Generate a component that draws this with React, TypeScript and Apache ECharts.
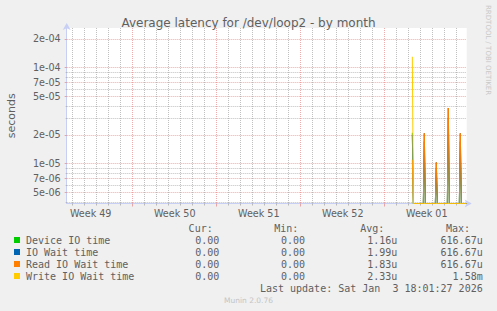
import React, { useEffect, useRef } from 'react';
import * as echarts from 'echarts';

// ---- data ----
const seriesNames = ['Device IO time', 'IO Wait time', 'Read IO Wait time', 'Write IO Wait time'];
const seriesColors = ['#00cc00', '#0066b3', '#ff8000', '#ffcc00'];

// x axis unit: days since Monday 1 Dec 2025 00:00; samples are 2-hour averages
const sampleStartDay = 30.3;
const sampleStepDay = 1 / 12;

const deviceIoTime = [
  2.1e-5, 0, 0, 0, 0, 0, 0, 0, 0, 0, 0, 0,
  1.7e-5, 0, 0, 0, 0, 0, 0, 0, 0, 0, 0, 0,
  0.9e-5, 0, 0, 0, 0, 0, 0, 0, 0, 0, 0, 0,
  3.0e-5, 0, 0, 0, 0, 0, 0, 0, 0, 0, 0, 0,
  1.7e-5, 0, 0, 0, 0, 0, 0,
];
const ioWaitTime = [
  2.0e-5, 0, 0, 0, 0, 0, 0, 0, 0, 0, 0, 0,
  2.07e-5, 0, 0, 0, 0, 0, 0, 0, 0, 0, 0, 0,
  1.03e-5, 0, 0, 0, 0, 0, 0, 0, 0, 0, 0, 0,
  3.8e-5, 0, 0, 0, 0, 0, 0, 0, 0, 0, 0, 0,
  2.07e-5, 0, 0, 0, 0, 0, 0,
];
const readIoWaitTime = [
  1.1e-5, 0, 0, 0, 0, 0, 0, 0, 0, 0, 0, 0,
  2.07e-5, 0, 0, 0, 0, 0, 0, 0, 0, 0, 0, 0,
  1.03e-5, 0, 0, 0, 0, 0, 0, 0, 0, 0, 0, 0,
  3.8e-5, 0, 0, 0, 0, 0, 0, 0, 0, 0, 0, 0,
  2.07e-5, 0, 0, 0, 0, 0, 0,
];
const writeIoWaitTime = [
  1.3e-4, 0, 0, 0, 0, 0, 0, 0, 0, 0, 0, 0,
  0, 0, 0, 0, 0, 0, 0, 0, 0, 0, 0, 0,
  0, 0, 0, 0, 0, 0, 0, 0, 0, 0, 0, 0,
  0, 0, 0, 0, 0, 0, 0, 0, 0, 0, 0, 0,
  0, 0, 0, 0, 0, 0, 0,
];
const seriesValues = [deviceIoTime, ioWaitTime, readIoWaitTime, writeIoWaitTime];

const curValues = ['0.00', '0.00', '0.00', '0.00'];
const minValues = ['0.00', '0.00', '0.00', '0.00'];
const avgValues = ['1.16u', '1.99u', '1.83u', '2.33u'];
const maxValues = ['616.67u', '616.67u', '616.67u', '1.58m'];

const weekLabelDays = [3.5, 10.5, 17.5, 24.5, 31.5];
const weekLabels = ['Week 49', 'Week 50', 'Week 51', 'Week 52', 'Week 01'];
const weekStartDays = [7, 14, 21, 28];
const dayGridDays = [2, 3, 4, 5, 6, 8, 9, 10, 11, 12, 13, 15, 16, 17, 18, 19, 20, 22, 23, 24, 25, 26, 27, 29, 30, 31, 32, 33, 34];

const yMajorTicks = [5e-6, 7e-6, 1e-5, 2e-5, 5e-5, 7e-5, 1e-4, 2e-4];
const yMinorTicks = [4e-6, 6e-6, 8e-6, 9e-6, 3e-5, 4e-5, 6e-5, 8e-5, 9e-5];

const xMin = 1.5;
const xMax = 34.83;
const yMin = 3.85e-6;
const yMax = 2.59e-4;

const titleText = 'Average latency for /dev/loop2 - by month';
const lastUpdate = 'Last update: Sat Jan  3 18:01:27 2026';
const footer = 'Munin 2.0.76';
const sideText = 'RRDTOOL / TOBI OETIKER';

// ---- styles ----
const FONT = 'DejaVu Sans';
const MONO = 'DejaVu Sans Mono';
const TEXT = '#606060';
const AXIS = '#c8cff4';
const MINOR = 'rgba(140,140,140,0.55)';
const MAJOR = 'rgba(225,90,90,0.5)';

function fmtExp(v: number): string {
  const e = Math.floor(Math.log10(v) + 1e-9);
  const m = Math.round(v / Math.pow(10, e));
  return `${m}e${e < 0 ? '-' : '+'}${String(Math.abs(e)).padStart(2, '0')}`;
}

export default function App() {
  const ref = useRef<HTMLDivElement>(null);

  useEffect(() => {
    document.body.style.margin = '0';
    document.body.style.background = '#f0f0f0';
    if (!ref.current) return;
    const chart = echarts.init(ref.current, null, { renderer: 'svg' });

    const series = seriesNames.map((name, s) => ({
      type: 'line',
      name,
      xAxisIndex: 0,
      yAxisIndex: 0,
      data: seriesValues[s].map((v, i) => [sampleStartDay + i * sampleStepDay, Math.max(v, yMin)]),
      showSymbol: false,
      symbol: 'none',
      clip: false,
      lineStyle: { width: 1, color: seriesColors[s] },
      itemStyle: { color: seriesColors[s] },
      z: 3 + s,
    }));

    const rowY = [240, 252, 264, 276];
    const graphic: any[] = [];
    const txt = (text: string, x: number, y: number, align: string, font = `10px "${MONO}"`, fill = TEXT) => ({
      type: 'text',
      x,
      y,
      silent: true,
      style: { text, fill, font, textAlign: align, textVerticalAlign: 'middle' },
    });
    graphic.push(txt('Cur:', 212.7, 228, 'right'));
    graphic.push(txt('Min:', 298.3, 228, 'right'));
    graphic.push(txt('Avg:', 384.3, 228, 'right'));
    graphic.push(txt('Max:', 470, 228, 'right'));
    seriesNames.forEach((name, i) => {
      graphic.push({
        type: 'rect',
        silent: true,
        shape: { x: 14, y: rowY[i] - 3, width: 6, height: 6 },
        style: { fill: seriesColors[i] },
      });
      graphic.push(txt(name, 26, rowY[i], 'left'));
      graphic.push(txt(curValues[i], 219.3, rowY[i], 'right'));
      graphic.push(txt(minValues[i], 305, rowY[i], 'right'));
      graphic.push(txt(avgValues[i], 397.3, rowY[i], 'right'));
      graphic.push(txt(maxValues[i], 482.7, rowY[i], 'right'));
    });
    graphic.push(txt(lastUpdate, 482.7, 288, 'right'));
    graphic.push(txt(footer, 248.5, 300, 'center', `7.5px "${FONT}"`, '#c4c4c4'));
    graphic.push({
      type: 'text',
      x: 487.5,
      y: 5,
      rotation: -Math.PI / 2,
      silent: true,
      style: { text: sideText, fill: '#c8c8c8', font: `7px "${FONT}"`, textAlign: 'left', textVerticalAlign: 'middle' },
    });

    const option: any = {
      animation: false,
      backgroundColor: '#f0f0f0',
      title: {
        text: titleText,
        left: 'center',
        top: 12,
        textStyle: { color: TEXT, fontSize: 12, fontWeight: 'normal', fontFamily: FONT },
      },
      grid: {
        left: 66.7,
        top: 28,
        width: 400,
        height: 175.5,
        show: true,
        backgroundColor: '#ffffff',
        borderWidth: 0,
        containLabel: false,
        outerBoundsMode: 'none',
      },
      xAxis: [
        {
          type: 'value',
          min: xMin,
          max: xMax,
          position: 'bottom',
          axisLine: {
            show: true,
            lineStyle: { color: AXIS, width: 1 },
            symbol: ['none', 'arrow'],
            symbolSize: [6, 7],
            symbolOffset: [0, 5],
          },
          axisTick: { show: true, customValues: dayGridDays, length: 2, lineStyle: { color: MINOR } },
          axisLabel: {
            show: true,
            customValues: weekLabelDays,
            formatter: (v: number) => {
              const i = weekLabelDays.findIndex((d) => Math.abs(d - v) < 1e-6);
              return i >= 0 ? weekLabels[i] : '';
            },
            color: TEXT,
            fontSize: 9.6,
            fontFamily: FONT,
            margin: 5,
          },
          splitLine: { show: true, lineStyle: { color: MINOR, type: [1, 1], width: 1 } },
        },
        {
          type: 'value',
          min: xMin,
          max: xMax,
          position: 'bottom',
          axisLine: { show: false },
          axisTick: { show: true, customValues: weekStartDays, length: 3, lineStyle: { color: MAJOR } },
          axisLabel: { show: false },
          splitLine: { show: true, lineStyle: { color: MAJOR, type: [1, 1], width: 1 } },
        },
      ],
      yAxis: [
        {
          type: 'log',
          logBase: 10,
          min: yMin,
          max: yMax,
          position: 'left',
          name: 'seconds',
          nameLocation: 'middle',
          nameGap: 50,
          nameTextStyle: { color: TEXT, fontSize: 11, fontFamily: FONT },
          axisLine: {
            show: true,
            lineStyle: { color: AXIS, width: 1 },
            symbol: ['none', 'arrow'],
            symbolSize: [6, 7],
            symbolOffset: [0, 5],
          },
          axisTick: { show: true, customValues: yMajorTicks, length: 2, lineStyle: { color: MAJOR } },
          axisLabel: {
            show: true,
            customValues: yMajorTicks,
            formatter: (v: number) => fmtExp(v),
            color: TEXT,
            fontSize: 9.6,
            fontFamily: FONT,
            margin: 6,
          },
          splitLine: { show: true, lineStyle: { color: MAJOR, type: [1, 1], width: 1 } },
        },
        {
          type: 'log',
          logBase: 10,
          min: yMin,
          max: yMax,
          position: 'left',
          axisLine: { show: false },
          axisTick: { show: true, customValues: yMinorTicks, length: 1, lineStyle: { color: MINOR } },
          axisLabel: { show: false },
          splitLine: { show: true, lineStyle: { color: MINOR, type: [1, 1], width: 1 } },
        },
      ],
      series,
      graphic,
    };

    chart.setOption(option);
    return () => chart.dispose();
  }, []);

  return <div ref={ref} style={{ width: 497, height: 311, background: '#f0f0f0' }} />;
}
